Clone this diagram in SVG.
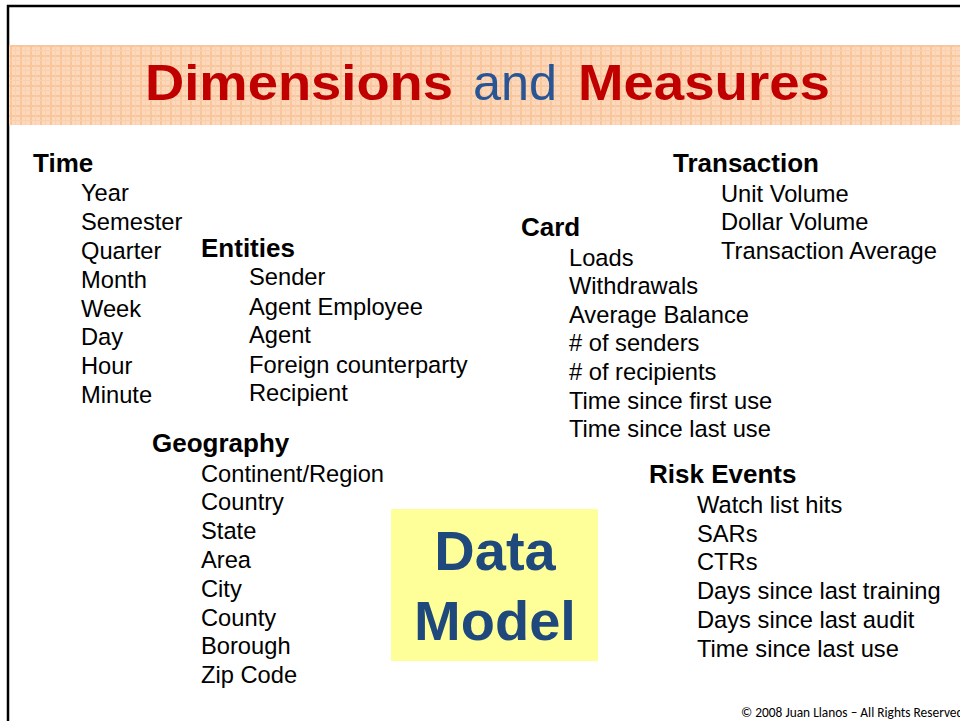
<svg xmlns="http://www.w3.org/2000/svg" width="960" height="721" viewBox="0 0 960 721">
  <defs>
    <pattern id="plaid" x="0" y="45" width="10" height="10" patternUnits="userSpaceOnUse">
      <rect width="10" height="10" fill="#FCD9BC"/>
      <rect x="0" y="0" width="2" height="10" fill="#F9C69B"/>
      <rect x="0" y="0" width="10" height="2" fill="#F9C69B"/>
      <rect x="5" y="0" width="1" height="10" fill="#FBCFA9"/>
      <rect x="0" y="5" width="10" height="1" fill="#FBCFA9"/>
    </pattern>
  </defs>
  <style>
    .h { font-family: "Liberation Sans", Arial, sans-serif; font-weight: bold; font-size: 26px; fill: #000; }
    .t { font-family: "Liberation Sans", Arial, sans-serif; font-size: 23.7px; fill: #000; }
    .ttl { font-family: "Liberation Sans", Arial, sans-serif; font-size: 50px; }
    .dm { font-family: "Liberation Sans", Arial, sans-serif; font-weight: bold; font-size: 56px; fill: #1F497D; }
  </style>
  <rect width="960" height="721" fill="#FFFFFF"/>
  <path d="M8 721 V6 H960" fill="none" stroke="#000" stroke-width="2.5"/>

  <g id="header">
    <rect x="9" y="45" width="951" height="80" fill="url(#plaid)"/>
    <text class="ttl" x="145" y="100" font-weight="bold" fill="#C00000" textLength="308" lengthAdjust="spacingAndGlyphs">Dimensions</text>
    <text class="ttl" x="473" y="100" fill="#2A5595" textLength="84" lengthAdjust="spacingAndGlyphs">and</text>
    <text class="ttl" x="578" y="100" font-weight="bold" fill="#C00000" textLength="252" lengthAdjust="spacingAndGlyphs">Measures</text>
  </g>

  <g id="time">
    <text class="h" x="33" y="172">Time</text>
    <text class="t" x="81" y="201">Year</text>
    <text class="t" x="81" y="230">Semester</text>
    <text class="t" x="81" y="259">Quarter</text>
    <text class="t" x="81" y="288">Month</text>
    <text class="t" x="81" y="317">Week</text>
    <text class="t" x="81" y="345">Day</text>
    <text class="t" x="81" y="374">Hour</text>
    <text class="t" x="81" y="403">Minute</text>
  </g>

  <g id="entities">
    <text class="h" x="201" y="257">Entities</text>
    <text class="t" x="249" y="285">Sender</text>
    <text class="t" x="249" y="315">Agent Employee</text>
    <text class="t" x="249" y="343">Agent</text>
    <text class="t" x="249" y="373">Foreign counterparty</text>
    <text class="t" x="249" y="401">Recipient</text>
  </g>

  <g id="geography">
    <text class="h" x="152" y="452">Geography</text>
    <text class="t" x="201" y="482">Continent/Region</text>
    <text class="t" x="201" y="510">Country</text>
    <text class="t" x="201" y="539">State</text>
    <text class="t" x="201" y="568">Area</text>
    <text class="t" x="201" y="597">City</text>
    <text class="t" x="201" y="626">County</text>
    <text class="t" x="201" y="654">Borough</text>
    <text class="t" x="201" y="683">Zip Code</text>
  </g>

  <g id="transaction">
    <text class="h" x="673" y="172">Transaction</text>
    <text class="t" x="721" y="202">Unit Volume</text>
    <text class="t" x="721" y="230">Dollar Volume</text>
    <text class="t" x="721" y="259">Transaction Average</text>
  </g>

  <g id="card">
    <text class="h" x="521" y="236">Card</text>
    <text class="t" x="569" y="266">Loads</text>
    <text class="t" x="569" y="294">Withdrawals</text>
    <text class="t" x="569" y="323">Average Balance</text>
    <text class="t" x="569" y="351"># of senders</text>
    <text class="t" x="569" y="380"># of recipients</text>
    <text class="t" x="569" y="409">Time since first use</text>
    <text class="t" x="569" y="437">Time since last use</text>
  </g>

  <g id="risk-events">
    <text class="h" x="649" y="483">Risk Events</text>
    <text class="t" x="697" y="513">Watch list hits</text>
    <text class="t" x="697" y="542">SARs</text>
    <text class="t" x="697" y="570">CTRs</text>
    <text class="t" x="697" y="599">Days since last training</text>
    <text class="t" x="697" y="628">Days since last audit</text>
    <text class="t" x="697" y="657">Time since last use</text>
  </g>

  <g id="data-model">
    <rect x="391" y="509" width="207" height="152" fill="#FFFF99"/>
    <text class="dm" x="495" y="570" text-anchor="middle">Data</text>
    <text class="dm" x="495" y="640" text-anchor="middle">Model</text>
  </g>

  <g id="connectors"/>

  <text x="741" y="717" font-family="Carlito, 'Liberation Sans', sans-serif" font-size="13.4" fill="#000">© 2008 Juan Llanos – All Rights Reserved</text>
</svg>
